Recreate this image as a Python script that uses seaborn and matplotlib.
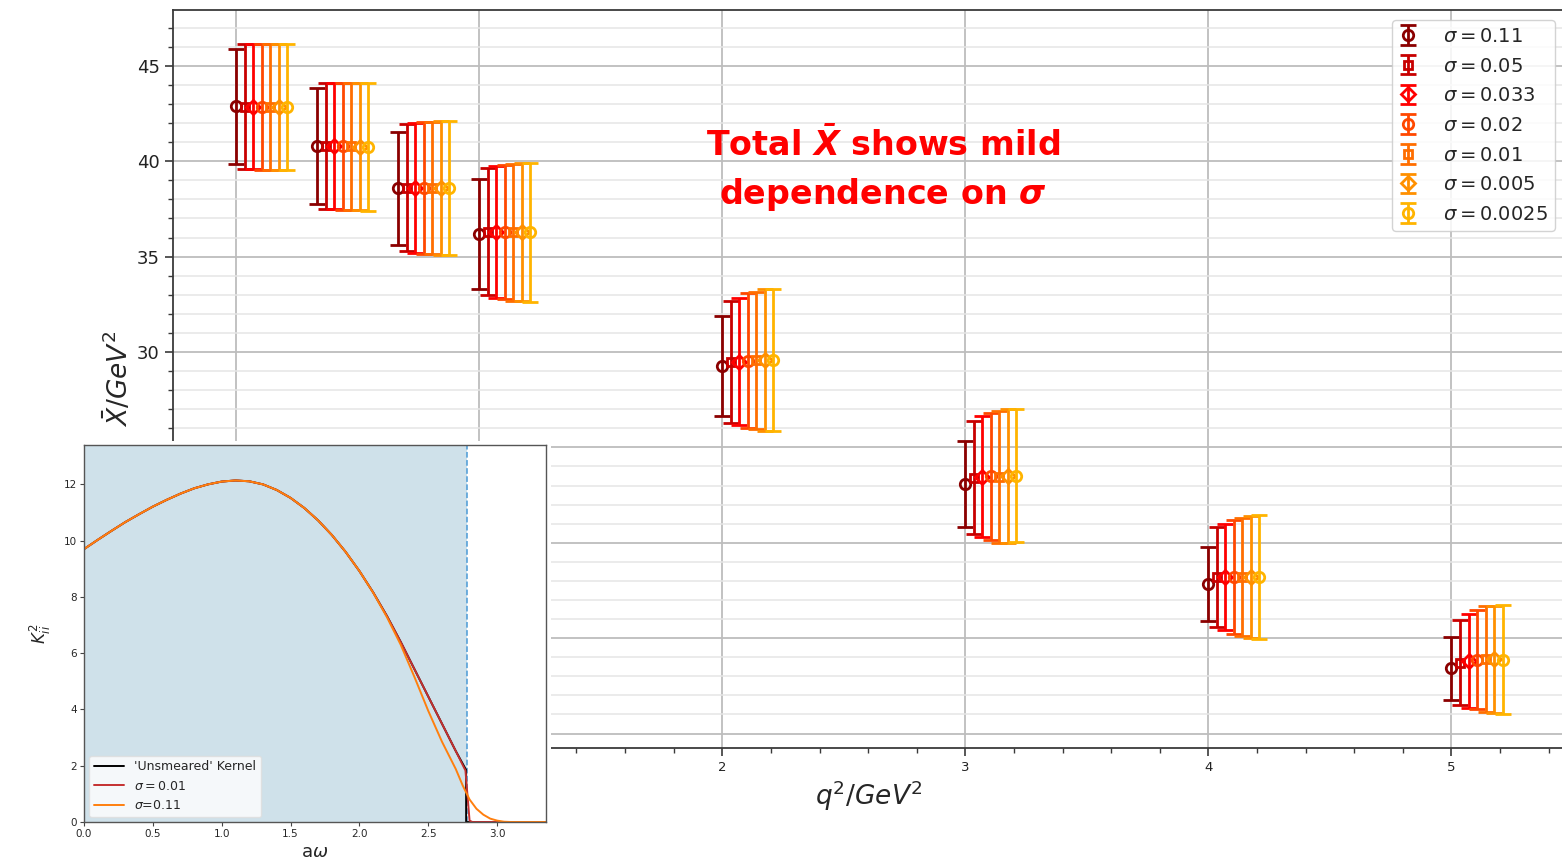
import matplotlib
matplotlib.use("Agg")
import matplotlib.pyplot as plt
from matplotlib.ticker import MultipleLocator, FormatStrFormatter, FuncFormatter
import pandas as pd
import seaborn as sns

# ---------------- data ----------------
q2 = [0.0, 1 / 3, 2 / 3, 1.0, 2.0, 3.0, 4.0, 5.0]
sigma_labels = ["0.11", "0.05", "0.033", "0.02", "0.01", "0.005", "0.0025"]

xbar_s011 = [42.88, 40.80, 38.58, 36.19, 29.29, 23.08, 17.83, 13.41]
err_s011 = [3.03, 3.03, 2.96, 2.90, 2.62, 2.24, 1.94, 1.66]
xbar_s005 = [42.87, 40.80, 38.62, 36.31, 29.50, 23.41, 18.20, 13.71]
err_s005 = [3.29, 3.32, 3.34, 3.32, 3.20, 2.95, 2.62, 2.22]
xbar_s0033 = [42.87, 40.80, 38.60, 36.30, 29.50, 23.47, 18.20, 13.80]
err_s0033 = [3.30, 3.32, 3.40, 3.45, 3.32, 3.16, 2.80, 2.44]
xbar_s002 = [42.86, 40.79, 38.60, 36.29, 29.55, 23.49, 18.21, 13.87]
err_s002 = [3.30, 3.33, 3.46, 3.52, 3.53, 3.32, 3.00, 2.60]
xbar_s001 = [42.86, 40.78, 38.60, 36.28, 29.56, 23.46, 18.21, 13.90]
err_s001 = [3.30, 3.33, 3.48, 3.58, 3.60, 3.46, 3.10, 2.77]
xbar_s0005 = [42.86, 40.77, 38.61, 36.28, 29.58, 23.50, 18.22, 13.88]
err_s0005 = [3.31, 3.34, 3.50, 3.62, 3.70, 3.50, 3.20, 2.83]
xbar_s00025 = [42.86, 40.75, 38.61, 36.27, 29.57, 23.52, 18.21, 13.86]
err_s00025 = [3.31, 3.34, 3.50, 3.63, 3.72, 3.49, 3.23, 2.86]

# kernel curves for the inset
omega_unsmeared = [0.0, 0.1, 0.2, 0.3, 0.4, 0.5, 0.6, 0.7, 0.8, 0.9, 1.0,
                   1.1, 1.2, 1.3, 1.4, 1.5, 1.6, 1.7, 1.8, 1.9, 2.0, 2.1,
                   2.2, 2.3, 2.4, 2.5, 2.6, 2.7, 2.775, 2.775, 3.36]
k_unsmeared = [9.70, 10.03, 10.35, 10.66, 10.94, 11.21, 11.45, 11.67, 11.86,
               12.00, 12.10, 12.14, 12.11, 12.00, 11.80, 11.52, 11.16, 10.72,
               10.20, 9.60, 8.92, 8.16, 7.32, 6.40, 5.43, 4.46, 3.49, 2.52,
               1.85, 0.0, 0.0]
omega_s001 = [0.0, 0.1, 0.2, 0.3, 0.4, 0.5, 0.6, 0.7, 0.8, 0.9, 1.0,
              1.1, 1.2, 1.3, 1.4, 1.5, 1.6, 1.7, 1.8, 1.9, 2.0, 2.1,
              2.2, 2.3, 2.4, 2.5, 2.6, 2.7, 2.77, 2.80, 2.82, 3.36]
k_s001 = [9.70, 10.03, 10.35, 10.66, 10.94, 11.21, 11.45, 11.67, 11.86,
          12.00, 12.10, 12.14, 12.11, 12.00, 11.80, 11.52, 11.16, 10.72,
          10.20, 9.60, 8.92, 8.16, 7.32, 6.40, 5.43, 4.46, 3.49, 2.52,
          1.83, 0.05, 0.0, 0.0]
omega_s011 = [0.0, 0.1, 0.2, 0.3, 0.4, 0.5, 0.6, 0.7, 0.8, 0.9, 1.0,
              1.1, 1.2, 1.3, 1.4, 1.5, 1.6, 1.7, 1.8, 1.9, 2.0, 2.1,
              2.2, 2.3, 2.4, 2.5, 2.6, 2.7, 2.75, 2.8, 2.85, 2.9, 2.95,
              3.0, 3.05, 3.1, 3.36]
k_s011 = [9.70, 10.03, 10.35, 10.66, 10.94, 11.21, 11.45, 11.67, 11.86,
          12.00, 12.10, 12.14, 12.11, 12.00, 11.80, 11.52, 11.16, 10.72,
          10.20, 9.60, 8.92, 8.15, 7.28, 6.30, 5.15, 3.95, 2.85, 1.88,
          1.30, 0.80, 0.47, 0.26, 0.12, 0.05, 0.01, 0.0, 0.0]
omega_cut = 2.78

# ---------------- style ----------------
sns.set_style("ticks")
plt.rcParams["font.family"] = ["DejaVu Sans"]
plt.rcParams["mathtext.fontset"] = "dejavusans"

W, H = 1562, 866


def frame(x0, y0, x1, y1):
    return [x0 / W, 1 - y1 / H, (x1 - x0) / W, (y1 - y0) / H]


fig = plt.figure(figsize=(W / 100, H / 100), dpi=100)
fig.patch.set_facecolor("white")

ax = fig.add_axes(frame(173, 10, 1565, 748))
ax.set_facecolor("white")

series = [
    (xbar_s011, err_s011, "#8b0000", "o"),
    (xbar_s005, err_s005, "#c80000", "s"),
    (xbar_s0033, err_s0033, "#ff0000", "D"),
    (xbar_s002, err_s002, "#ff4800", "o"),
    (xbar_s001, err_s001, "#ff6e00", "s"),
    (xbar_s0005, err_s0005, "#ff9000", "D"),
    (xbar_s00025, err_s00025, "#ffb400", "o"),
]
offset = 0.035
handles = []
for i, ((vals, errs, col, mk), lab) in enumerate(zip(series, sigma_labels)):
    xs = [q + i * offset for q in q2]
    msize = {"o": 7.5, "s": 6.0, "D": 7.0}[mk]
    h = ax.errorbar(xs, vals, yerr=errs, fmt=mk, color=col, ecolor=col,
                    mfc="none", mec=col, mew=2.0, ms=msize, elinewidth=2.0,
                    capsize=6, capthick=2.0, zorder=3 + i,
                    label=r"$\sigma = %s$" % lab)
    handles.append(h)

ax.set_xlim(-0.26, 5.467)
ax.set_ylim(9.24, 47.93)
ax.xaxis.set_major_locator(MultipleLocator(1))
ax.xaxis.set_minor_locator(MultipleLocator(0.2))
ax.yaxis.set_major_locator(MultipleLocator(5))
ax.yaxis.set_minor_locator(MultipleLocator(1))
# the kernel panel sits over the lower-left corner, so only the
# tick labels outside it are printed
ax.xaxis.set_major_formatter(FuncFormatter(
    lambda v, p: "%d" % round(v) if v > 1.5 else ""))
ax.yaxis.set_major_formatter(FuncFormatter(
    lambda v, p: "%d" % round(v) if v > 27 else ""))
ax.grid(which="major", axis="both", color="#bdbdbd", lw=1.3, zorder=0)
ax.grid(which="minor", axis="y", color="#e6e6e6", lw=1.1, zorder=0)
ax.set_axisbelow(True)
for side in ("left", "bottom", "top", "right"):
    ax.spines[side].set_visible(True)
    ax.spines[side].set_color("#3a3a3a")
    ax.spines[side].set_linewidth(1.3)
ax.tick_params(axis="both", which="major", length=6, width=1.2,
               color="#3a3a3a", direction="out")
ax.tick_params(axis="both", which="minor", length=3.5, width=1.0,
               color="#3a3a3a", direction="out")
ax.tick_params(axis="y", which="major", labelsize=13, labelcolor="#222222")
ax.tick_params(axis="x", which="major", labelsize=9.5, labelcolor="#222222")

ax.set_xlabel(r"$q^2/GeV^2$", fontsize=19, labelpad=3)
ax.set_ylabel(r"$\bar{X}/GeV^2$", fontsize=19, labelpad=2)

ax.text(2.66, 39.55, "Total $\\mathbfit{\\bar{X}}$ shows mild\n"
        "dependence on $\\mathbfit{\\sigma}$",
        ha="center", va="center", color="#ff0000", fontsize=24,
        fontweight="bold", linespacing=1.45, zorder=20)

leg = ax.legend(handles=handles, loc="upper right",
                bbox_to_anchor=(1555 / W, 1 - 20 / H),
                bbox_transform=fig.transFigure, borderaxespad=0,
                fontsize=14, handlelength=1.0, labelspacing=0.55,
                handletextpad=1.3, borderpad=0.35, frameon=True,
                fancybox=True, framealpha=0.85, edgecolor="#cccccc")

# ---------------- inset: kernel ----------------
cover = fig.add_axes(frame(0, 441, 551, 866))
cover.set_facecolor("white")
cover.set_xticks([])
cover.set_yticks([])
for s in cover.spines.values():
    s.set_visible(False)
cover.set_zorder(5)

inax = fig.add_axes(frame(84, 445, 546, 822))
inax.set_zorder(6)
inax.set_facecolor("white")
inax.axvspan(0, omega_cut, color="#cfe1ea", lw=0, zorder=0)
inax.axvline(omega_cut, color="#4a9ad6", ls="--", lw=1.1, zorder=1)

df_unsm = pd.DataFrame({"omega": omega_unsmeared, "K": k_unsmeared})
df_001 = pd.DataFrame({"omega": omega_s001, "K": k_s001})
df_011 = pd.DataFrame({"omega": omega_s011, "K": k_s011})
sns.lineplot(data=df_unsm, x="omega", y="K", ax=inax, color="black", lw=1.4,
             estimator=None, sort=False, label="'Unsmeared' Kernel")
sns.lineplot(data=df_001, x="omega", y="K", ax=inax, color="#c43030", lw=1.4,
             estimator=None, sort=False, label=r"$\sigma = 0.01$")
sns.lineplot(data=df_011, x="omega", y="K", ax=inax, color="#ff7f0e", lw=1.4,
             estimator=None, sort=False, label=r"$\sigma$=0.11")

inax.set_xlim(0, 3.355)
inax.set_ylim(0, 13.4)
inax.xaxis.set_major_locator(MultipleLocator(0.5))
inax.yaxis.set_major_locator(MultipleLocator(2))
inax.tick_params(axis="both", labelsize=7.5, length=3, width=0.8,
                 color="#444444", pad=2)
inax.xaxis.set_major_formatter(FormatStrFormatter("%.1f"))
for s in inax.spines.values():
    s.set_visible(True)
    s.set_color("#555555")
    s.set_linewidth(1.0)
inax.set_xlabel(r"a$\omega$", fontsize=13, labelpad=3)
inax.set_ylabel(r"$K^2_{ii}$", fontsize=12, labelpad=8)
inax.legend(loc="lower left", fontsize=9, handlelength=2.4,
            borderaxespad=0.4, framealpha=0.8, edgecolor="#dddddd",
            fancybox=True)

fig.savefig("out.png", dpi=100, facecolor="white")
